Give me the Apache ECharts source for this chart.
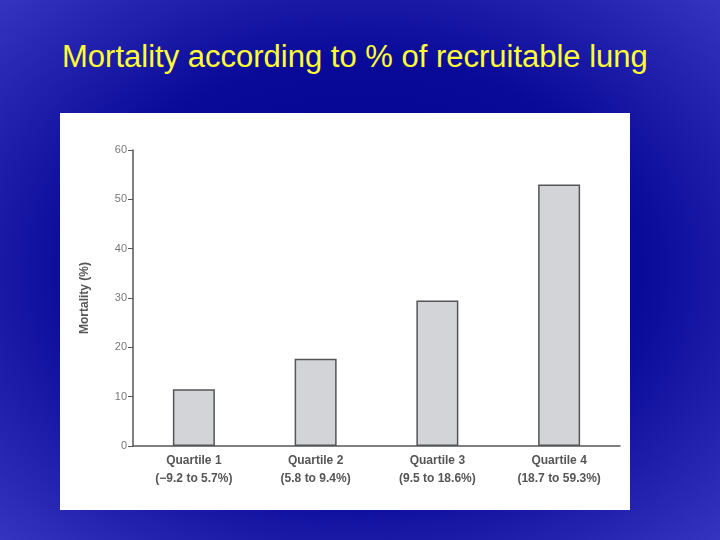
<!DOCTYPE html>
<html><head><meta charset="utf-8">
<script src="https://cdn.jsdelivr.net/npm/echarts@6/dist/echarts.min.js"></script>
<style>
html,body{margin:0;padding:0;}
body{width:720px;height:540px;background:radial-gradient(ellipse at center,#000090 0%,#0a0a98 55%,#3434c0 100%);position:relative;overflow:hidden;font-family:"Liberation Sans",Arial,sans-serif;}
#title{position:absolute;left:62px;top:39px;color:#ffff33;font-size:31px;}
#panel{position:absolute;left:60px;top:113px;width:570px;height:397px;background:#fff;}
</style></head><body>
<div id="title">Mortality according to % of recruitable lung</div>
<div id="panel"></div>
<script>
const categories = ['Quartile 1\n(\u22129.2 to 5.7%)', 'Quartile 2\n(5.8 to 9.4%)', 'Quartile 3\n(9.5 to 18.6%)', 'Quartile 4\n(18.7 to 59.3%)'];
const mortality = [11.5, 17.7, 29.5, 53];

const chart = echarts.init(document.getElementById('panel'));
chart.setOption({
  animation: false,
  grid: { left: 73, right: 10, top: 37, bottom: 64 },
  xAxis: {
    type: 'category',
    data: categories,
    axisLine: { lineStyle: { color: '#555', width: 1.5 } },
    axisTick: { show: false },
    axisLabel: { color: '#555', fontSize: 12, fontWeight: 'bold', lineHeight: 18, margin: 6 }
  },
  yAxis: {
    type: 'value',
    min: 0, max: 60, interval: 10,
    name: 'Mortality (%)',
    nameLocation: 'middle',
    nameGap: 42,
    nameTextStyle: { color: '#555', fontSize: 12, fontWeight: 'bold' },
    axisLine: { show: true, lineStyle: { color: '#555', width: 1.5 } },
    axisTick: { show: true, length: 5, lineStyle: { color: '#555' } },
    axisLabel: { color: '#777', fontSize: 11, margin: 6 },
    splitLine: { show: false }
  },
  series: [{
    type: 'bar',
    data: mortality,
    barWidth: 42,
    itemStyle: { color: '#d3d4d8', borderColor: '#555', borderWidth: 1.5 }
  }]
});
</script>
</body></html>
